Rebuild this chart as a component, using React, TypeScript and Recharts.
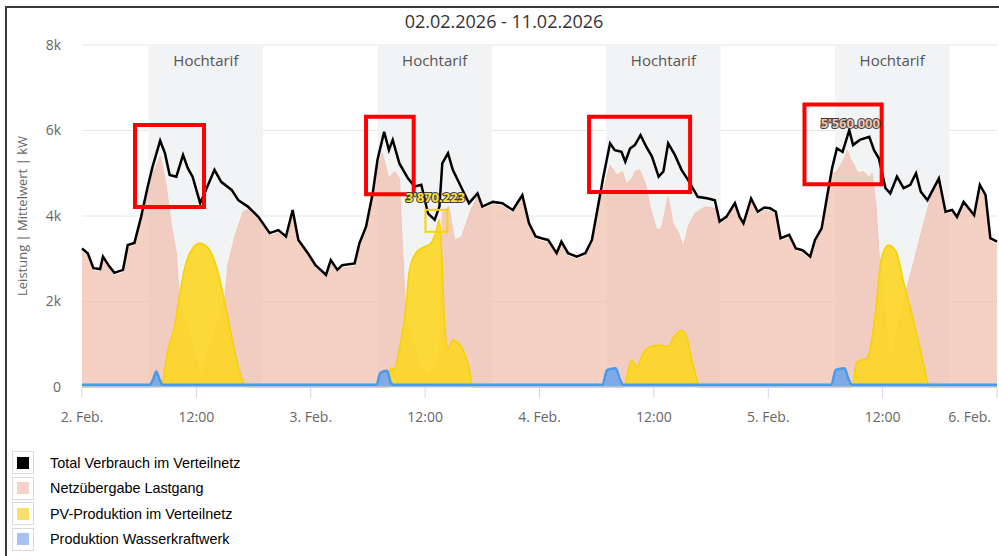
import React from "react";
import {
  ComposedChart,
  Area,
  Line,
  XAxis,
  YAxis,
  CartesianGrid,
  ReferenceArea,
  ReferenceDot,
} from "recharts";

// hours since 2. Feb 00:00, values in kW
const totalHours = [0, 0.6, 1.2, 1.9, 2.2, 2.9, 3.4, 4.3, 4.8, 5.5, 6.2, 6.9, 7.4, 8.2, 8.7, 9.2, 9.9, 10.6, 11.1, 11.6, 12.4, 13.0, 13.9, 14.6, 15.7, 16.4, 17.4, 18.5, 19.7, 20.6, 21.4, 22.1, 22.7, 23.7, 24.5, 25.6, 26.1, 26.8, 27.3, 28.6, 29.1, 29.8, 30.5, 31.0, 31.7, 32.2, 32.6, 33.3, 34.2, 34.9, 35.6, 36.3, 37.0, 37.5, 37.8, 38.4, 38.9, 39.6, 40.6, 41.5, 42.0, 43.1, 44.1, 45.2, 46.2, 46.9, 47.6, 48.2, 48.9, 49.8, 50.3, 51.0, 51.9, 52.8, 53.5, 54.0, 54.7, 55.4, 55.9, 56.6, 57.0, 57.5, 58.0, 58.6, 59.2, 59.8, 60.5, 61.0, 61.5, 62.2, 62.9, 63.6, 64.6, 65.7, 66.4, 66.9, 67.6, 68.5, 69.0, 69.4, 70.2, 70.9, 71.6, 72.2, 72.8, 73.3, 74.2, 74.9, 75.6, 76.4, 76.9, 77.6, 78.2, 78.7, 79.2, 79.8, 80.5, 80.9, 81.6, 82.6, 83.1, 83.6, 84.3, 84.8, 85.5, 86.2, 86.9, 87.5, 88.0, 88.7, 89.9, 90.6, 91.3, 91.8, 92.5, 93.6, 94.2, 94.8, 95.3, 96.0];
const totalKw = [3240, 3130, 2780, 2760, 3050, 2810, 2670, 2740, 3320, 3370, 3980, 4690, 5150, 5760, 5470, 4960, 4920, 5430, 5120, 4920, 4300, 4610, 5080, 4800, 4610, 4370, 4220, 3980, 3600, 3670, 3520, 4140, 3440, 3130, 2850, 2620, 2970, 2740, 2850, 2890, 3360, 3750, 4530, 5310, 5970, 5540, 5780, 5230, 4880, 4690, 4730, 4060, 3910, 4220, 5230, 5470, 5080, 4760, 4300, 4530, 4220, 4330, 4300, 4140, 4490, 3830, 3520, 3480, 3440, 3130, 3400, 3130, 3050, 3130, 3440, 4060, 4920, 5700, 5540, 5500, 5270, 5580, 5660, 5890, 5620, 5390, 4920, 5040, 5700, 5430, 5080, 4840, 4450, 4410, 4370, 3870, 3980, 4300, 3980, 3830, 4410, 4100, 4200, 4180, 4100, 3480, 3560, 3240, 3200, 3050, 3440, 3710, 4490, 5120, 5580, 5500, 6010, 5660, 5780, 5850, 5540, 5350, 4650, 4530, 4920, 4650, 4730, 5000, 4570, 4370, 4880, 4100, 4140, 3980, 4330, 4020, 4730, 4490, 3480, 3400];

const netzHours = [0, 0.6, 1.2, 1.9, 2.2, 2.9, 3.4, 4.3, 4.8, 5.5, 6.2, 6.9, 7.4, 8.2, 8.8, 9.4, 9.9, 10.2, 12.5, 15.0, 15.3, 16.0, 16.9, 17.4, 18.5, 19.7, 20.6, 21.4, 22.1, 22.7, 23.7, 24.5, 25.6, 26.1, 26.8, 27.3, 28.6, 29.1, 29.8, 30.5, 31.0, 31.5, 32.2, 32.8, 33.3, 33.6, 34.0, 35.5, 36.5, 37.5, 37.8, 38.5, 39.1, 39.8, 40.8, 41.5, 42.0, 43.1, 44.1, 45.2, 46.2, 46.9, 47.6, 48.2, 48.9, 49.8, 50.3, 51.0, 51.9, 52.8, 53.5, 54.0, 54.7, 55.4, 56.1, 56.7, 57.1, 57.7, 58.0, 58.5, 59.1, 59.6, 60.3, 60.8, 61.5, 62.0, 62.6, 63.1, 63.6, 64.3, 65.4, 66.4, 66.9, 67.6, 68.5, 69.0, 69.4, 70.2, 70.9, 71.6, 72.2, 72.8, 73.3, 74.2, 74.9, 75.6, 76.4, 76.9, 77.6, 78.2, 78.7, 79.2, 79.9, 80.3, 80.6, 81.0, 81.4, 82.0, 82.6, 82.9, 83.3, 83.6, 84.0, 84.7, 85.5, 86.3, 87.1, 88.0, 89.0, 89.7, 89.9, 90.6, 91.3, 91.8, 92.5, 93.6, 94.2, 94.8, 95.3, 96.0];
const netzKw = [3170, 3060, 2710, 2690, 2980, 2740, 2600, 2670, 3250, 3300, 3900, 4500, 4950, 5400, 4760, 3750, 3130, 2100, 250, 2100, 2850, 3500, 4100, 4150, 3910, 3530, 3600, 3450, 3950, 3370, 3060, 2780, 2550, 2900, 2670, 2780, 2820, 3290, 3680, 4420, 5100, 5470, 4880, 5040, 4880, 3360, 1600, 500, 200, 800, 4100, 4220, 3440, 3500, 4140, 4460, 4150, 4260, 4230, 4070, 4420, 3760, 3450, 3410, 3370, 3060, 3330, 3060, 2980, 3060, 3370, 3990, 4610, 5190, 4960, 5040, 4760, 4880, 5040, 5080, 4760, 4220, 3670, 3710, 4450, 3830, 3600, 3280, 3750, 4060, 4220, 4180, 3790, 3910, 4230, 3910, 3760, 4340, 4030, 4130, 4110, 4030, 3410, 3490, 3170, 3130, 2980, 3370, 3640, 4400, 5000, 5040, 5310, 5540, 5350, 5200, 5000, 5040, 4900, 5000, 4260, 3170, 2500, 550, 1300, 2100, 2780, 3560, 4400, 4800, 4810, 4030, 4070, 3910, 4260, 3950, 4600, 4400, 3400, 3330];

const pvHours = [0, 8.3, 9.0, 9.7, 10.2, 10.8, 11.6, 12.4, 13.4, 14.3, 15.0, 15.7, 16.4, 16.9, 17.2, 32.1, 32.4, 32.8, 33.3, 33.6, 34.0, 34.3, 35.0, 35.9, 36.6, 37.1, 37.5, 37.8, 38.0, 38.4, 38.9, 39.6, 40.1, 40.6, 41.0, 56.8, 57.7, 58.2, 58.9, 59.6, 60.6, 61.5, 62.0, 62.9, 63.4, 64.0, 64.9, 80.8, 81.3, 81.8, 82.4, 82.7, 83.3, 83.8, 84.1, 84.6, 85.4, 86.2, 87.1, 88.0, 89.0, 96];
const pvKw = [0, 0, 870, 1410, 2110, 2810, 3240, 3360, 3200, 2660, 1960, 1180, 470, 120, 0, 0, 450, 420, 900, 1260, 1900, 2660, 3130, 3280, 3360, 3600, 3910, 2810, 1640, 900, 1100, 1000, 800, 470, 0, 0, 630, 470, 790, 940, 980, 940, 1140, 1330, 1200, 630, 0, 0, 590, 630, 670, 900, 1840, 2930, 3170, 3320, 3170, 2460, 1680, 830, 0, 0];

const hydroHours = [0, 7.1, 7.5, 7.8, 8.1, 8.5, 30.9, 31.3, 32.0, 32.4, 32.7, 54.6, 55.1, 56.0, 56.4, 56.8, 78.6, 79.1, 80.0, 80.4, 80.8, 96];
const hydroKw = [50, 50, 200, 360, 200, 50, 50, 330, 380, 100, 50, 50, 400, 440, 200, 50, 50, 400, 440, 200, 50, 50];

const xTicks = [0, 12, 24, 36, 48, 60, 72, 84, 96];
const xTickLabels = ["2. Feb.", "12:00", "3. Feb.", "12:00", "4. Feb.", "12:00", "5. Feb.", "12:00", "6. Feb."];
const yTicks = [0, 2000, 4000, 6000, 8000];

// Hochtarif 07:00 - 19:00
const tariffBands = [
  [7, 19],
  [31, 43],
  [55, 67],
  [79, 91],
];

// red highlight boxes: [fromHour, toHour, fromKw, toKw]
const highlightBoxes = [
  [5.56, 12.8, 4210, 6130],
  [29.8, 34.8, 4510, 6320],
  [53.2, 63.8, 4560, 6320],
  [75.8, 83.9, 4740, 6610],
];

const legendItems = [
  { name: "Total Verbrauch im Verteilnetz", color: "#000000" },
  { name: "Netzübergabe Lastgang", color: "#f6d3c8" },
  { name: "PV-Produktion im Verteilnetz", color: "#f6e06a" },
  { name: "Produktion Wasserkraftwerk", color: "#a9c1f2" },
];

const rows = (hours: number[], kw: number[]) => hours.map((h, i) => ({ h, kw: kw[i] }));

const totalData = rows(totalHours, totalKw);
const netzData = rows(netzHours, netzKw);
const pvData = rows(pvHours, pvKw);
const hydroData = rows(hydroHours, hydroKw);

const FONT = "'Open Sans', 'DejaVu Sans', sans-serif";

const XTick = (props: any) => {
  const { x, y, payload } = props;
  const i = xTicks.indexOf(payload.value);
  const last = i === xTicks.length - 1;
  return (
    <text x={x} y={y} dy="0.71em" textAnchor={last ? "end" : "middle"} fill="#666" fontSize={14} fontFamily={FONT}>
      {xTickLabels[i]}
    </text>
  );
};

const outlined = {
  fontFamily: FONT,
  fontSize: 13,
  fontWeight: 700,
  stroke: "#3a3a3a",
  strokeWidth: 2,
  paintOrder: "stroke",
} as const;

const PvMarker = (props: any) => {
  const { cx, cy } = props;
  return (
    <g>
      <rect x={cx - 14} y={cy - 10} width={22} height={22} fill="none" stroke="#f7d400" strokeWidth={2} />
      <text x={cx - 4} y={cy - 23} textAnchor="middle" dominantBaseline="central" fill="#ffe23a" {...outlined}>
        3'870.223
      </text>
    </g>
  );
};

const NetzMarker = (props: any) => {
  const { cx, cy } = props;
  return (
    <text x={cx + 3} y={cy - 27} textAnchor="middle" dominantBaseline="central" fill="#f3c4b3" {...outlined}>
      5'560.000
    </text>
  );
};

export default function App() {
  return (
    <div style={{ position: "absolute", left: 0, top: 0, width: 999, height: 556, background: "#fff", overflow: "hidden", fontFamily: FONT }}>
      <div style={{ position: "absolute", left: 5, top: 6, width: 1010, height: 570, borderLeft: "2px solid #3a3a3a", borderTop: "2px solid #3a3a3a" }} />
      <div style={{ position: "absolute", left: 354, top: 9, width: 300, textAlign: "center", fontSize: 18, lineHeight: "24px", color: "#333" }}>
        02.02.2026 - 11.02.2026
      </div>
      <div
        style={{
          position: "absolute",
          left: 22,
          top: 216,
          transform: "translate(-50%, -50%) rotate(-90deg)",
          whiteSpace: "nowrap",
          fontSize: 13,
          color: "#666",
        }}
      >
        Leistung | Mittelwert | kW
      </div>
      <div style={{ position: "absolute", left: 0, top: 0 }}>
        <ComposedChart width={999} height={440} margin={{ top: 45, right: 2, left: 22, bottom: 13 }}>
          {tariffBands.map(([a, b], i) => (
            <ReferenceArea
              key={`band${i}`}
              x1={a}
              x2={b}
              y1={0}
              y2={8000}
              fill="#f2f3f5"
              fillOpacity={1}
              stroke="none"
              zIndex={-50}
              label={{ value: "Hochtarif", position: "insideTop", offset: 10, fill: "#555", fontSize: 15, fontFamily: FONT }}
            />
          ))}
          <CartesianGrid vertical={false} stroke="#e6e6e6" />
          <XAxis
            type="number"
            dataKey="h"
            domain={[0, 96]}
            ticks={xTicks}
            height={40}
            tickSize={11}
            tickMargin={14}
            stroke="#ccd6eb"
            tick={<XTick />}
            allowDuplicatedCategory={false}
          />
          <YAxis
            domain={[0, 8000]}
            ticks={yTicks}
            width={60}
            axisLine={false}
            tickLine={false}
            tickSize={0}
            tickMargin={21}
            tick={{ fill: "#666", fontSize: 14, fontFamily: FONT }}
            tickFormatter={(v: number) => (v === 0 ? "0" : `${v / 1000}k`)}
          />
          <Area
            data={netzData}
            dataKey="kw"
            type="linear"
            fill="#f0b8a4"
            fillOpacity={0.65}
            stroke="#f3c6b6"
            strokeWidth={1}
            isAnimationActive={false}
            dot={false}
            activeDot={false}
          />
          <Area
            data={pvData}
            dataKey="kw"
            type="monotone"
            fill="#fcd623"
            fillOpacity={0.9}
            stroke="#f5d200"
            strokeWidth={1.5}
            isAnimationActive={false}
            dot={false}
            activeDot={false}
          />
          <Area
            data={hydroData}
            dataKey="kw"
            type="monotone"
            fill="#72a6ea"
            fillOpacity={0.9}
            stroke="#4a9aec"
            strokeWidth={2.5}
            isAnimationActive={false}
            dot={false}
            activeDot={false}
          />
          <Line
            data={totalData}
            dataKey="kw"
            type="linear"
            stroke="#000"
            strokeWidth={2.5}
            isAnimationActive={false}
            dot={false}
            activeDot={false}
          />
          {highlightBoxes.map(([a, b, lo, hi], i) => (
            <ReferenceArea
              key={`box${i}`}
              x1={a}
              x2={b}
              y1={lo}
              y2={hi}
              fill="none"
              fillOpacity={0}
              stroke="#ff0000"
              strokeWidth={4}
              zIndex={2500}
            />
          ))}
          <ReferenceDot x={37.5} y={3910} shape={<PvMarker />} zIndex={2600} />
          <ReferenceDot x={80.3} y={5540} shape={<NetzMarker />} zIndex={2600} />
        </ComposedChart>
      </div>
      <div style={{ position: "absolute", left: 12, top: 450 }}>
        {legendItems.map((item) => (
          <div key={item.name} style={{ display: "flex", alignItems: "center", height: 25.5 }}>
            <div
              style={{
                width: 22,
                height: 23,
                boxSizing: "border-box",
                border: "1px solid #dadada",
                display: "flex",
                alignItems: "center",
                justifyContent: "center",
              }}
            >
              <div style={{ width: 12, height: 12, background: item.color }} />
            </div>
            <span style={{ marginLeft: 16, fontFamily: "'Liberation Sans', Arial, sans-serif", fontSize: 14.4, color: "#000" }}>
              {item.name}
            </span>
          </div>
        ))}
      </div>
    </div>
  );
}
